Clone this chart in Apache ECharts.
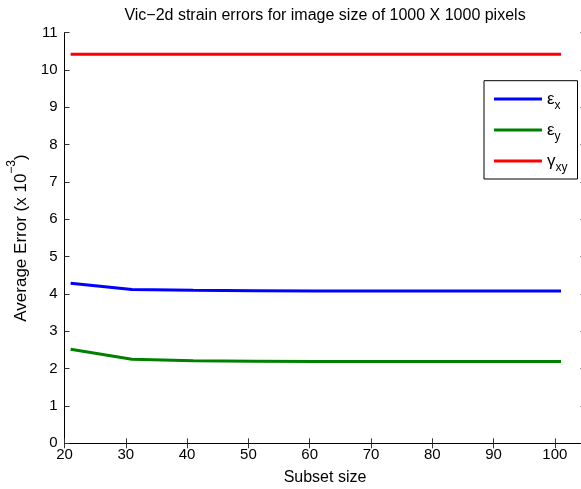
<!DOCTYPE html>
<html>
<head>
<meta charset="utf-8">
<script src="https://cdn.jsdelivr.net/npm/echarts@6/dist/echarts.min.js"></script>
<style>
  html, body { margin: 0; padding: 0; background: #fff; }
  #chart { width: 581px; height: 489px; }
</style>
</head>
<body>
<div id="chart"></div>
<script>
// Subset sizes (pixels) and average strain errors (x 10^-3)
const subsetSizes = [21, 31, 41, 51, 61, 71, 81, 91, 101];
const epsX  = [4.29, 4.12, 4.10, 4.09, 4.08, 4.08, 4.08, 4.08, 4.08];
const epsY  = [2.52, 2.25, 2.21, 2.20, 2.19, 2.19, 2.19, 2.19, 2.19];
const gamXY = [10.42, 10.42, 10.42, 10.42, 10.42, 10.42, 10.42, 10.42, 10.42];
const seriesNames = ['ex', 'ey', 'gxy'];
const seriesColors = ['#0000ff', '#008000', '#ff0000'];

const FONT = 'Liberation Sans, Arial, Helvetica, sans-serif';

// Legend labels: Greek letter with a subscript
const legendText = {
  ex:  '{g|ε}{s|x}',
  ey:  '{g|ε}{s|y}',
  gxy: '{g|γ}{s|xy}'
};

function pairs(ys) { return subsetSizes.map((x, i) => [x, ys[i]]); }

const chart = echarts.init(document.getElementById('chart'), null, { renderer: 'canvas' });

const GRID = { left: 64.5, top: 32.7, width: 521, height: 410.6 };
const baseAxisLine = { show: true, lineStyle: { color: '#000', width: 1 } };
const tickIn = { show: true, inside: true, length: 5, lineStyle: { color: '#333' } };

chart.setOption({
  animation: false,
  backgroundColor: '#fff',
  title: {
    text: 'Vic\u22122d strain errors for image size of 1000 X 1000 pixels',
    left: GRID.left + GRID.width / 2,
    textAlign: 'center',
    top: 8,
    padding: 0,
    textStyle: { fontFamily: FONT, fontSize: 16, fontWeight: 'normal', color: '#000' }
  },
  grid: Object.assign({ containLabel: false, outerBoundsMode: 'none' }, GRID),
  legend: {
    orient: 'vertical',
    left: 484,
    top: 80.7,
    padding: [3.8, 10, 3.5, 10],
    itemGap: 2,
    itemWidth: 48,
    itemHeight: 3,
    icon: 'rect',
    backgroundColor: '#fff',
    borderColor: '#000',
    borderWidth: 1,
    borderRadius: 0,
    data: seriesNames,
    formatter: n => legendText[n],
    textStyle: {
      fontFamily: FONT,
      color: '#000',
      lineHeight: 29,
      rich: {
        g: { fontSize: 17, fontFamily: FONT, color: '#000', lineHeight: 29 },
        s: { fontSize: 12, fontFamily: FONT, color: '#000', verticalAlign: 'top', padding: [15, 0, 0, 0] }
      }
    }
  },
  xAxis: [
    {
      type: 'value', position: 'bottom', min: 20, max: 105, interval: 10,
      name: 'Subset size', nameLocation: 'middle', nameGap: 26,
      nameTextStyle: { fontFamily: FONT, fontSize: 16, color: '#000' },
      axisLine: baseAxisLine, axisTick: tickIn,
      axisLabel: { fontFamily: FONT, fontSize: 15, color: '#000', margin: 4,
        showMaxLabel: false },
      splitLine: { show: false }
    },
    {
      type: 'value', position: 'top', min: 20, max: 105, interval: 10,
      axisLine: baseAxisLine, axisTick: tickIn,
      axisLabel: { show: false }, splitLine: { show: false }
    }
  ],
  yAxis: [
    {
      type: 'value', position: 'left', min: 0, max: 11, interval: 1,
      name: '{a|Average Error (x 10}{b|\u22123}{a|)}',
      nameLocation: 'middle', nameGap: 20,
      nameTextStyle: {
        rich: {
          a: { fontFamily: FONT, fontSize: 17, color: '#000', lineHeight: 24, verticalAlign: 'bottom' },
          b: { fontFamily: FONT, fontSize: 12, color: '#000', lineHeight: 24, verticalAlign: 'top', padding: [0, 0, 10, 0] }
        }
      },
      axisLine: baseAxisLine, axisTick: tickIn,
      axisLabel: { fontFamily: FONT, fontSize: 15, color: '#000', margin: 7 },
      splitLine: { show: false }
    },
    {
      type: 'value', position: 'right', min: 0, max: 11, interval: 1,
      axisLine: baseAxisLine, axisTick: tickIn,
      axisLabel: { show: false }, splitLine: { show: false }
    }
  ],
  series: [epsX, epsY, gamXY].map((ys, i) => ({
    name: seriesNames[i],
    type: 'line',
    data: pairs(ys),
    showSymbol: false,
    symbol: 'none',
    lineStyle: { color: seriesColors[i], width: 3 },
    itemStyle: { color: seriesColors[i] }
  }))
});
</script>
</body>
</html>
